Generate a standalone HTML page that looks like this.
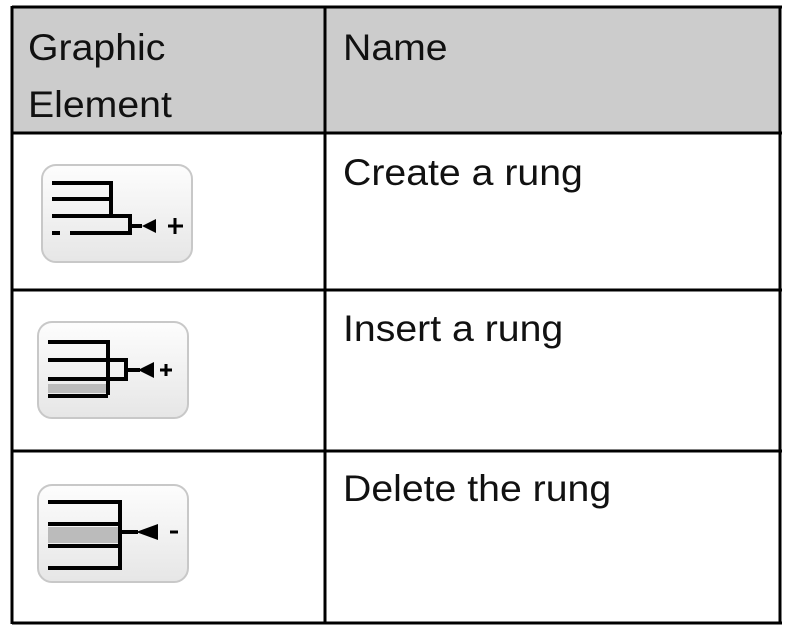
<!DOCTYPE html>
<html><head><style>
body{margin:0;width:788px;height:638px;background:#fff;overflow:hidden;font-family:"Liberation Sans",Arial,sans-serif;}
.t{position:absolute;font-size:37px;color:#111;line-height:1;transform:scaleX(1.06);transform-origin:0 0;white-space:nowrap;}
</style></head><body>
<svg width="788" height="638" style="position:absolute;left:0;top:0">
<rect x="12" y="7" width="768" height="126" fill="#cccccc"/>
<g stroke="#000" stroke-width="3" fill="none">
<line x1="12" y1="7" x2="782" y2="7"/>
<line x1="12" y1="133" x2="782" y2="133"/>
<line x1="12" y1="290" x2="782" y2="290"/>
<line x1="12" y1="451" x2="782" y2="451"/>
<line x1="12" y1="623" x2="782" y2="623"/>
<line x1="12" y1="6" x2="12" y2="624"/>
<line x1="325" y1="6" x2="325" y2="624"/>
<line x1="780" y1="6" x2="780" y2="624"/>
</g>
<defs><linearGradient id="g" x1="0" y1="0" x2="0" y2="1"><stop offset="0" stop-color="#fdfdfd"/><stop offset="1" stop-color="#e6e6e6"/></linearGradient></defs>
<!-- icon1 -->
<rect x="42" y="165" width="150" height="97" rx="14" fill="url(#g)" stroke="#c8c8c8" stroke-width="2"/>
<g stroke="#000" stroke-width="4" fill="none">
<polyline points="52,183 111,183 111,217"/>
<line x1="52" y1="199" x2="111" y2="199"/>
<polyline points="52,216 130,216 130,233 70,233"/>
<line x1="52" y1="233" x2="60" y2="233"/>
<line x1="130" y1="226" x2="142" y2="226"/>
<line x1="168" y1="226" x2="183" y2="226" stroke-width="3"/>
<line x1="175" y1="218" x2="175" y2="234" stroke-width="3"/>
</g>
<polygon points="142,226 156,219 156,233" fill="#000"/>
<!-- icon2 -->
<rect x="38" y="322" width="150" height="96" rx="14" fill="url(#g)" stroke="#c8c8c8" stroke-width="2"/>
<g stroke="#000" stroke-width="4" fill="none">
<polyline points="48,342 108,342 108,395"/>
<polyline points="48,360 126,360 126,379 48,379"/>
<line x1="48" y1="396" x2="108" y2="396"/>
<line x1="126" y1="370" x2="140" y2="370"/>
<line x1="160" y1="370" x2="172" y2="370" stroke-width="3"/>
<line x1="166" y1="364" x2="166" y2="376" stroke-width="3"/>
</g>
<rect x="48" y="384" width="58" height="9" fill="#bbb"/>
<polygon points="138,370 154,362 154,378" fill="#000"/>
<!-- icon3 -->
<rect x="38" y="485" width="150" height="97" rx="14" fill="url(#g)" stroke="#c8c8c8" stroke-width="2"/>
<g stroke="#000" stroke-width="4" fill="none">
<polyline points="48,502 120,502 120,568 48,568"/>
<line x1="48" y1="524" x2="120" y2="524"/>
<line x1="48" y1="546" x2="120" y2="546"/>
<line x1="120" y1="532" x2="138" y2="532"/>
<line x1="170" y1="532" x2="178" y2="532" stroke-width="3"/>
</g>
<rect x="48" y="527" width="70" height="16" fill="#bbb"/>
<polygon points="136,532 158,524 158,540" fill="#000"/>
</svg>
<div class="t" style="left:28px;top:29px;">Graphic</div>
<div class="t" style="left:28px;top:86px;">Element</div>
<div class="t" style="left:343px;top:29px;">Name</div>
<div class="t" style="left:343px;top:154px;">Create a rung</div>
<div class="t" style="left:343px;top:310px;">Insert a rung</div>
<div class="t" style="left:343px;top:470px;">Delete the rung</div>
</body></html>
